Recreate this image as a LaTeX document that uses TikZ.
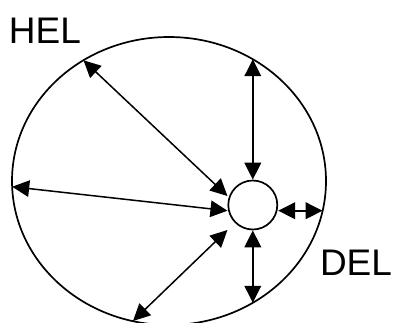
\documentclass[tikz,border=0pt]{standalone}
\usepackage{fontspec}
\setmainfont{Liberation Sans}
\usetikzlibrary{arrows.meta}

\tikzset{
	reach/.style={{Triangle[length=17pt,width=16.5pt]}-{Triangle[length=17pt,width=16.5pt]}, line width=1.5pt},
	gap/.style={{Triangle[length=17pt,width=16.5pt]}-{Triangle[length=17pt,width=16.5pt]}, line width=2.2pt},
	lbl/.style={anchor=base west, inner sep=0pt, font=\fontsize{37}{37}\selectfont}
}

\begin{document}
\begin{tikzpicture}[x=1pt,y=-1pt]

	\useasboundingbox (0,0) rectangle (393,322);

	\draw[line width=1.7pt] (169,181) ellipse [x radius=157, y radius=144];
	\node[draw, circle, fill=white, line width=1.7pt, minimum size=49pt, inner sep=0pt] (hub) at (252.8,205) {};

	\coordinate (top) at (252.8,59.2);
	\coordinate (upleft) at (83.5,60.3);
	\coordinate (left) at (12.2,186.7);
	\coordinate (lowleft) at (133,321);
	\coordinate (bottom) at (252.8,302.8);
	\coordinate (right) at (322.6,210.7);

	\draw[gap] (hub.north) -- (top);
	\draw[gap] (hub.south) -- (bottom);
	\draw[gap] ([yshift=-5.7pt]hub.east) -- (right);
	\draw[reach] ([yshift=9pt]hub.west) -- (upleft);
	\draw[reach] ([yshift=-5.7pt]hub.west) -- (left);
	\draw[reach] ([yshift=-25pt]hub.west) -- (lowleft);

	\node[lbl] (hel) at (8.8,43.3) {HEL};
	\node[lbl] (del) at (319.8,275.5) {DEL};

\end{tikzpicture}
\end{document}
